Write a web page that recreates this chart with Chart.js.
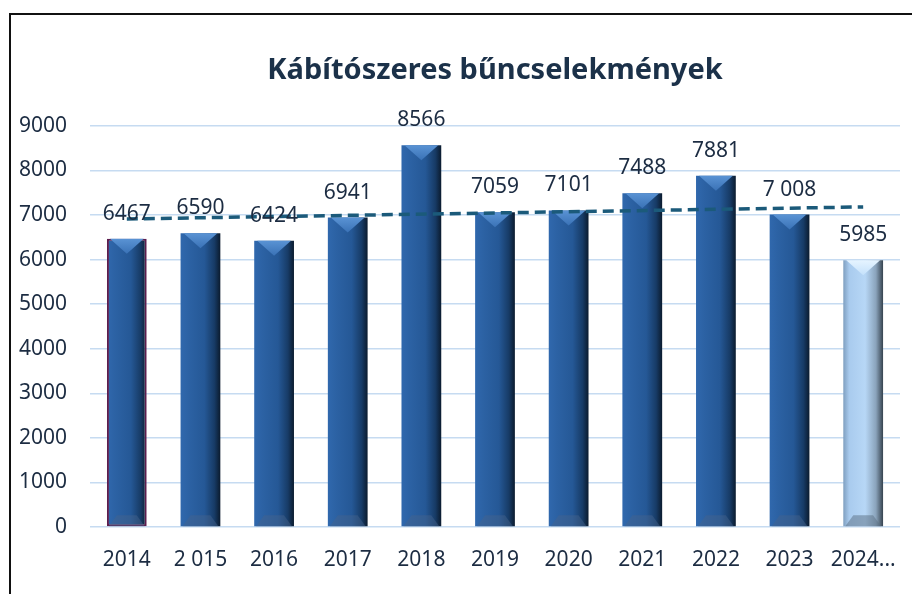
<!DOCTYPE html>
<html>
<head>
<meta charset="utf-8">
<script src="https://cdn.jsdelivr.net/npm/chart.js@4.4.1/dist/chart.umd.min.js"></script>
<style>
body{margin:0;background:#fff;}
#wrap{position:relative;width:912px;height:594px;}
#frame{position:absolute;left:9px;top:13px;right:0;bottom:0;border-top:2px solid #111;border-left:2px solid #111;pointer-events:none;}
</style>
</head>
<body>
<div id="wrap"><canvas id="crimeChart" width="912" height="594"></canvas><div id="frame"></div></div>
<script>
// data
var years = ['2014', '2 015', '2016', '2017', '2018', '2019', '2020', '2021', '2022', '2023', '2024...'];
var cases = [6467, 6590, 6424, 6941, 8566, 7059, 7101, 7488, 7881, 7008, 5985];
var caseLabels = ['6467', '6590', '6424', '6941', '8566', '7059', '7101', '7488', '7881', '7 008', '5985'];
var trend = [6910, null, null, null, null, null, null, null, null, null, 7180];
var yMin = 0, yMax = 9000, yStep = 1000;

var textColor = '#1c2c42';
var fontName = '"Noto Sans", "Liberation Sans", sans-serif';
var barPct = 0.54;

function barWidth(chart) {
    return chart.scales.x.width / years.length * barPct;
}

function barFill(context) {
    var chart = context.chart;
    if (!chart.chartArea) return '#25599a';
    var i = context.dataIndex;
    var x = chart.scales.x.getPixelForValue(i);
    var w = barWidth(chart);
    var g = chart.ctx.createLinearGradient(x - w / 2, 0, x + w / 2, 0);
    if (i == years.length - 1) {
        g.addColorStop(0, '#7f9fc0');
        g.addColorStop(0.15, '#a9cbee');
        g.addColorStop(0.55, '#b7d7f6');
        g.addColorStop(0.82, '#8aa3bb');
        g.addColorStop(1, '#36434f');
    } else {
        g.addColorStop(0, '#3068ad');
        g.addColorStop(0.2, '#2c62a4');
        g.addColorStop(0.6, '#255896');
        g.addColorStop(0.85, '#173b66');
        g.addColorStop(1, '#0b1b2e');
    }
    return g;
}

// the bevel on top and bottom of each bar
var bevelPlugin = {
    id: 'bevel',
    afterDatasetDraw: function (chart, args) {
        if (args.meta.type != 'bar') return;
        var ctx = chart.ctx;
        ctx.save();
        args.meta.data.forEach(function (bar, i) {
            var l = bar.x - bar.width / 2, r = bar.x + bar.width / 2;
            var top = bar.y, bottom = bar.base;
            var light = (i == years.length - 1);
            var g = ctx.createLinearGradient(0, top, 0, top + 15);
            g.addColorStop(0, light ? '#e6f4ff' : '#5a93d4');
            g.addColorStop(1, light ? '#c4e1fb' : '#3a72b6');
            ctx.fillStyle = g;
            ctx.beginPath();
            ctx.moveTo(l + 3, top);
            ctx.lineTo(r - 3, top);
            ctx.lineTo(bar.x, top + 15);
            ctx.closePath();
            ctx.fill();
            ctx.fillStyle = light ? 'rgba(90,110,130,0.5)' : 'rgba(70,100,140,0.45)';
            ctx.beginPath();
            ctx.moveTo(l + 2, bottom);
            ctx.lineTo(r - 2, bottom);
            ctx.lineTo(r - 10, bottom - 11);
            ctx.lineTo(l + 10, bottom - 11);
            ctx.closePath();
            ctx.fill();
        });
        ctx.restore();
    }
};

// value labels above bars
var valuePlugin = {
    id: 'values',
    afterDatasetsDraw: function (chart) {
        var meta = chart.getDatasetMeta(1);
        var ctx = chart.ctx;
        ctx.save();
        ctx.font = '21px ' + fontName;
        ctx.fillStyle = textColor;
        ctx.textAlign = 'center';
        ctx.textBaseline = 'middle';
        meta.data.forEach(function (bar, i) {
            ctx.fillText(caseLabels[i], bar.x, bar.y - 25);
        });
        ctx.restore();
    }
};

var borderColors = cases.map(function (v, i) { return i == 0 ? '#5c1d4e' : 'rgba(0,0,0,0)'; });
var borderWidths = cases.map(function (v, i) { return i == 0 ? 2 : 0; });

var ctx = document.getElementById('crimeChart').getContext('2d');
var myChart = new Chart(ctx, {
    type: 'bar',
    data: {
        labels: years,
        datasets: [{
            type: 'line',
            label: 'Trend',
            data: trend,
            spanGaps: true,
            borderColor: '#1b5a7a',
            borderWidth: 3.5,
            borderDash: [11, 6],
            pointRadius: 0,
            fill: false,
            order: 0
        }, {
            label: 'Kábítószeres bűncselekmények',
            data: cases,
            backgroundColor: barFill,
            borderColor: borderColors,
            borderWidth: borderWidths,
            borderSkipped: false,
            categoryPercentage: 1,
            barPercentage: barPct,
            order: 1
        }]
    },
    options: {
        responsive: false,
        animation: false,
        layout: { padding: { left: 0, right: 12, top: 0, bottom: 0 } },
        plugins: {
            legend: { display: false },
            tooltip: { enabled: false },
            title: {
                display: true,
                text: 'Kábítószeres bűncselekmények',
                fullSize: false,
                color: '#1b3149',
                font: { family: fontName, size: 29, weight: 'bold' },
                padding: { top: 53, bottom: 38 }
            }
        },
        scales: {
            x: {
                grid: { display: false },
                border: { display: false },
                ticks: {
                    color: textColor,
                    font: { family: fontName, size: 21 },
                    padding: 12,
                    maxRotation: 0,
                    autoSkip: false
                },
                afterFit: function (scale) { scale.height = 67; }
            },
            y: {
                min: yMin,
                max: yMax,
                border: { display: false },
                grid: { color: '#c6dbf1', lineWidth: 1.5, drawTicks: false },
                ticks: {
                    stepSize: yStep,
                    color: textColor,
                    font: { family: fontName, size: 21 },
                    padding: 23,
                    callback: function (value) { return String(value); }
                },
                afterFit: function (scale) { scale.width = 90; }
            }
        }
    },
    plugins: [bevelPlugin, valuePlugin]
});
</script>
</body>
</html>
